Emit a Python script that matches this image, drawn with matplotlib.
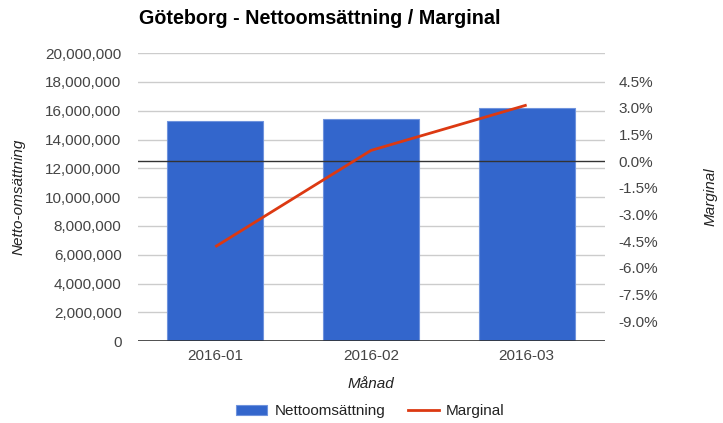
import numpy as np
import matplotlib
matplotlib.use('Agg')
from matplotlib import pyplot as plt
from matplotlib.patches import Patch
from matplotlib.lines import Line2D
from matplotlib.ticker import FuncFormatter

#%% Data
months      = ['2016-01', '2016-02', '2016-03']
netto       = [15300000, 15400000, 16190000]   # Nettoomsättning (kr)
marginal    = [-4.81, 0.60, 3.15]              # Marginal (%)

left_ticks  = np.arange(0, 20000001, 2000000)
right_ticks = [4.5, 3.0, 1.5, 0.0, -1.5, -3.0, -4.5, -6.0, -7.5, -9.0]

clr_bar  = '#3366cc'
clr_line = '#dc3912'
clr_txt  = '#444444'
fs = 11

plt.rcParams['font.family'] = ['Liberation Sans', 'DejaVu Sans']

#%% Figure
W, H = 723, 423
fig = plt.figure(figsize=(W / 100, H / 100), dpi=100)
ax = fig.add_axes([137.5 / W, (H - 341.1) / H, 467 / W, 288 / H])

x = np.arange(len(months))
ax.bar(x, netto, width=0.618, color=clr_bar, edgecolor='#6f93dd', linewidth=0.8, zorder=2)

ax.set_xlim(-0.5, 2.5)
ax.set_ylim(0, 20000000)
ax.set_yticks(left_ticks)
ax.yaxis.set_major_formatter(FuncFormatter(lambda v, p: f'{int(v):,}'))
ax.grid(axis='y', color='#cccccc', lw=1, zorder=0)
ax.axhline(0, color='#333333', lw=1.2, zorder=3)
ax.set_xticks(x)
ax.set_xticklabels(months)
ax.tick_params(axis='both', length=0, labelsize=fs, colors=clr_txt)
ax.tick_params(axis='y', pad=11.5)
ax.tick_params(axis='x', pad=6)
for s in ax.spines.values():
    s.set_visible(False)

ax.set_ylabel('Netto-omsättning', fontsize=fs, style='italic', color='#222222')
ax.yaxis.set_label_coords(-0.239, 0.5)
ax.set_xlabel('Månad', fontsize=fs, style='italic', color='#222222')
ax.xaxis.set_label_coords(0.5, -0.125)

# right axis, 0% aligned with 12.5M on the left axis
ax2 = ax.twinx()
span = 16.18
ax2.set_ylim(-0.625 * span, 0.375 * span)
ax2.set_yticks(right_ticks)
ax2.yaxis.set_major_formatter(FuncFormatter(lambda v, p: f'{v:.1f}%'))
ax2.tick_params(axis='y', length=0, labelsize=fs, colors=clr_txt, pad=10)
for s in ax2.spines.values():
    s.set_visible(False)
ax2.axhline(0, color='#333333', lw=1, zorder=1)
ax2.plot(x, marginal, color=clr_line, lw=2, zorder=4, solid_capstyle='butt')
ax2.set_ylabel('Marginal', fontsize=fs, style='italic', color='#222222', rotation=90)
ax2.yaxis.set_label_coords(1.213, 0.5)

fig.text(139 / W, 1 - 18 / H, 'Göteborg - Nettoomsättning / Marginal', fontsize=14.2,
         fontweight='bold', va='center', ha='left', color='black')

handles = [Patch(facecolor=clr_bar, edgecolor='#6f93dd', lw=0.8),
           Line2D([0], [0], color=clr_line, lw=2)]
fig.legend(handles, ['Nettoomsättning', 'Marginal'], loc='center',
           bbox_to_anchor=(370.5 / W, 1 - 411 / H), ncol=2, frameon=False,
           fontsize=fs, handlelength=2.0, handleheight=0.65, handletextpad=0.5,
           columnspacing=1.5, labelcolor='#222222')

fig.savefig('out.png', dpi=100)
